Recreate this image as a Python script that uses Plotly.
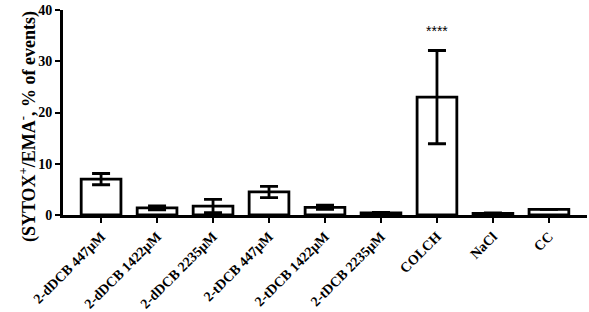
import plotly.graph_objects as go

categories = ["2-dDCB 447μM", "2-dDCB 1422μM", "2-dDCB 2235μM", "2-tDCB 447μM",
              "2-tDCB 1422μM", "2-tDCB 2235μM", "COLCH", "NaCl", "CC"]
means = [7.0, 1.4, 1.75, 4.5, 1.5, 0.4, 23.0, 0.3, 1.1]
errors = [1.1, 0.4, 1.3, 1.1, 0.4, 0.1, 9.1, 0.1, 0.0]
sig_label = "****"
sig_index = 6
sig_y = 36
yticks = [0, 10, 20, 30, 40]

SERIF = "Liberation Serif"

fig = go.Figure()
fig.add_trace(go.Bar(
    x=list(range(len(categories))), y=means,
    width=0.71,
    marker=dict(color="white", line=dict(color="black", width=2.8)),
    error_y=dict(type="data", array=errors, visible=True, color="black",
                 thickness=2.8, width=9),
))
fig.add_annotation(x=sig_index, y=sig_y, text=sig_label, showarrow=False,
                   font=dict(family="Arial", size=14, color="black"))
fig.add_annotation(x=-0.093, xref="paper", y=0.43, yref="paper",
                   text="(SYTOX<sup>+</sup>/EMA<sup>-</sup>, % of events)",
                   textangle=-90, showarrow=False,
                   font=dict(family=SERIF, size=18, color="black", weight="bold"))
fig.update_layout(
    width=589, height=312, margin=dict(l=63, r=2, t=10, b=97),
    plot_bgcolor="white", paper_bgcolor="white", showlegend=False,
    font=dict(family=SERIF, color="black"),
)
fig.update_xaxes(range=[-0.68, 8.68], tickvals=list(range(len(categories))),
                 ticktext=categories, tickangle=-45, automargin=False,
                 showline=True, linecolor="black", linewidth=2.8,
                 ticks="outside", ticklen=5, tickwidth=2, tickcolor="black",
                 tickfont=dict(family=SERIF, size=14, color="black", weight="bold"),
                 showgrid=False, zeroline=False)
fig.update_yaxes(range=[0, 40], tickvals=yticks, automargin=False,
                 ticktext=[str(v) for v in yticks],
                 showline=True, linecolor="black", linewidth=2.8,
                 ticks="outside", ticklen=5, tickwidth=2, tickcolor="black",
                 tickfont=dict(family=SERIF, size=14, color="black", weight="bold"),
                 showgrid=False, zeroline=False)
fig.write_html("out.html")
